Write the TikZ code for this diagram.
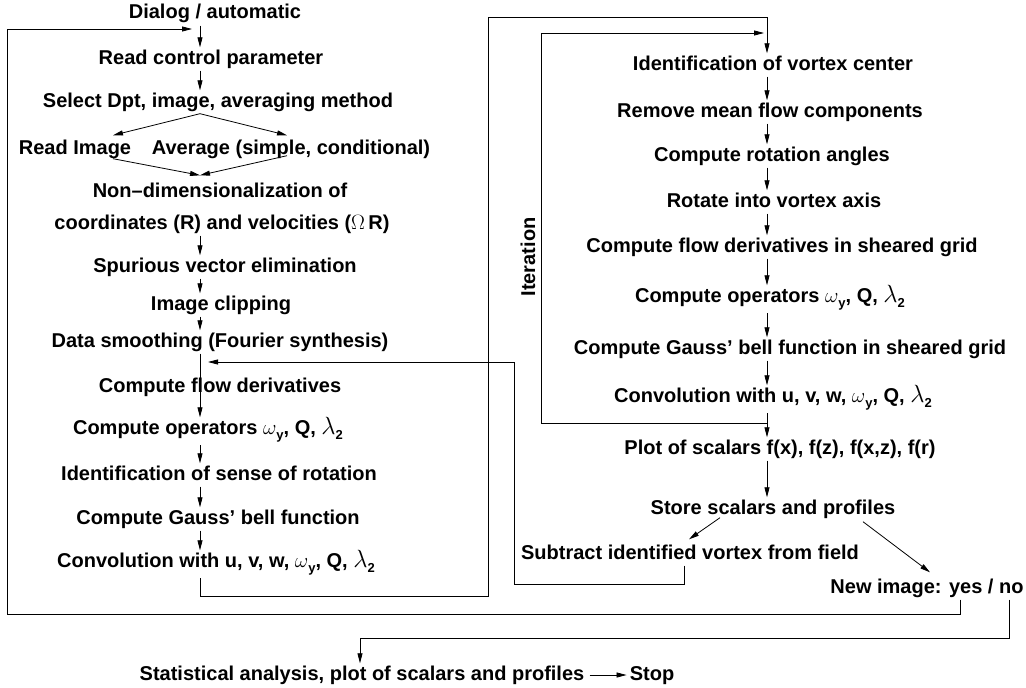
\documentclass[tikz,border=0pt]{standalone}
\usepackage{fontspec}
\setmainfont{Liberation Sans}
\usetikzlibrary{arrows.meta,calc}
\newcommand{\sbs}[1]{\raisebox{-5pt}{\fontsize{13}{13}\selectfont #1}}
\newcommand{\om}{{\fontsize{22}{22}\selectfont\(\omega\)}}
\newcommand{\lam}{{\fontsize{27}{27}\selectfont\(\lambda\)}}
\begin{document}
\begin{tikzpicture}[x=1pt,y=-1pt,
  lbl/.style={anchor=base, inner xsep=0pt, inner ysep=2pt, text height=14.5pt, text depth=4.5pt, font=\fontsize{20}{22}\selectfont\bfseries},
  lbs/.style={lbl, text depth=9pt},
  arr/.style={-{Triangle[length=10pt,width=5pt]}, line width=0.8pt}]
\useasboundingbox (0,0) rectangle (1026,688);
\coordinate (L) at (200,0);
\coordinate (R) at (767,0);
% left column
\node[lbl] (dia) at (215,19) {Dialog / automatic};
\node[lbl] (rcp) at (211,64) {Read control parameter};
\node[lbl] (sel) at (218,107) {Select Dpt, image, averaging method};
\node[lbl] (rim) at (75,154) {Read Image};
\node[lbl] (avg) at (291,154) {Average (simple, conditional)};
\node[lbl] (non1) at (220,197) {Non--dimensionalization of};
\node[lbl] (non2) at (222,229) {coordinates (R) and velocities (\(\Omega\)\,R)};
\node[lbl] (spu) at (225,272) {Spurious vector elimination};
\node[lbl] (clp) at (221,310) {Image clipping};
\node[lbl] (smo) at (220,347) {Data smoothing (Fourier synthesis)};
\node[lbl] (cfd) at (220,392) {Compute flow derivatives};
\node[lbs] (cop) at (208,434) {Compute operators \om\sbs{y}, Q, \lam\sbs{2}};
\node[lbl] (isr) at (219,480) {Identification of sense of rotation};
\node[lbl] (gau) at (218,524) {Compute Gauss’ bell function};
\node[lbs] (cnv) at (216,567) {Convolution with u, v, w, \om\sbs{y}, Q, \lam\sbs{2}};
% right column
\node[lbl] (ivc) at (773,70) {Identification of vortex center};
\node[lbl] (rmf) at (770,117) {Remove mean flow components};
\node[lbl] (cra) at (772,161) {Compute rotation angles};
\node[lbl] (rva) at (774,207) {Rotate into vortex axis};
\node[lbl] (cfs) at (782,252) {Compute flow derivatives in sheared grid};
\node[lbs] (co2) at (770,302) {Compute operators \om\sbs{y}, Q, \lam\sbs{2}};
\node[lbl] (gs2) at (790,354) {Compute Gauss’ bell function in sheared grid};
\node[lbs] (cv2) at (773,402) {Convolution with u, v, w, \om\sbs{y}, Q, \lam\sbs{2}};
\node[lbl] (pos) at (780,454) {Plot of scalars f(x), f(z), f(x,z), f(r)};
\node[lbl] (ssp) at (773,514) {Store scalars and profiles};
\node[lbl] (sub) at (690,559) {Subtract identified vortex from field};
\node[lbl] (new) at (927,593) {New image: yes / no};
\node[lbl, anchor=center, rotate=90] (itr) at (530,257) {Iteration};
% bottom
\node[lbl] (sta) at (362,680) {Statistical analysis, plot of scalars and profiles};
\node[lbl] (stp) at (652,680) {Stop};
% left arrows
\draw[arr] (dia.south -| L) -- (rcp.north -| L);
\draw[arr] (rcp.south -| L) -- (sel.north -| L);
\draw[arr] (sel.south -| L) -- ($(rim.north)+(38,-2)$);
\draw[arr] (sel.south -| L) -- ($(avg.north)+(-4,-2)$);
\draw[arr] ($(rim.south)+(38,-2)$) -- ($(non1.north -| L)+(0,-5)$);
\draw[arr] ($(avg.south)+(-4,-5)$) -- ($(non1.north -| L)+(0,-5)$);
\draw[arr] (non2.south -| L) -- (spu.north -| L);
\draw[arr] (spu.south -| L) -- (clp.north -| L);
\draw[arr] (clp.south -| L) -- (smo.north -| L);
\draw[arr] (smo.south -| L) -- (cop.north -| L);
\draw[arr] (cop.south -| L) -- (isr.north -| L);
\draw[arr] (isr.south -| L) -- (gau.north -| L);
\draw[arr] (gau.south -| L) -- (cnv.north -| L);
% right arrows
\draw[arr] (ivc.south -| R) -- (rmf.north -| R);
\draw[arr] (rmf.south -| R) -- (cra.north -| R);
\draw[arr] (cra.south -| R) -- (rva.north -| R);
\draw[arr] (rva.south -| R) -- (cfs.north -| R);
\draw[arr] (cfs.south -| R) -- (co2.north -| R);
\draw[arr] (co2.south -| R) -- (gs2.north -| R);
\draw[arr] (gs2.south -| R) -- (cv2.north -| R);
\draw[arr] (cv2.south -| R) -- (pos.north -| R);
\draw[arr] (pos.south -| R) -- (ssp.north -| R);
\draw[arr] ($(ssp.south)+(-53,-3)$) -- ($(sub.north)+(-1,-3)$);
\draw[arr] ($(ssp.south)+(90,1)$) -- ($(new.north)+(3,-4)$);
% loops
\draw[arr] (cnv.south -| L) |- (488,596) |- (767,17) -- (ivc.north -| R);
\draw[arr] (R |- 0,423) -| (541,33) -- (764,33);
\draw[arr] ([xshift=-6pt]sub.south) |- (514,584) |- (208,362);
\draw[arr] (new.south -| 960,0) |- (7,614) |- (192,29);
\draw[arr] (new.south -| 1009,0) |- (360,638) -- (sta.north -| 360,0);
\draw[arr, shorten <=5pt, shorten >=3pt] (sta.east) -- (stp.west);
\end{tikzpicture}
\end{document}
